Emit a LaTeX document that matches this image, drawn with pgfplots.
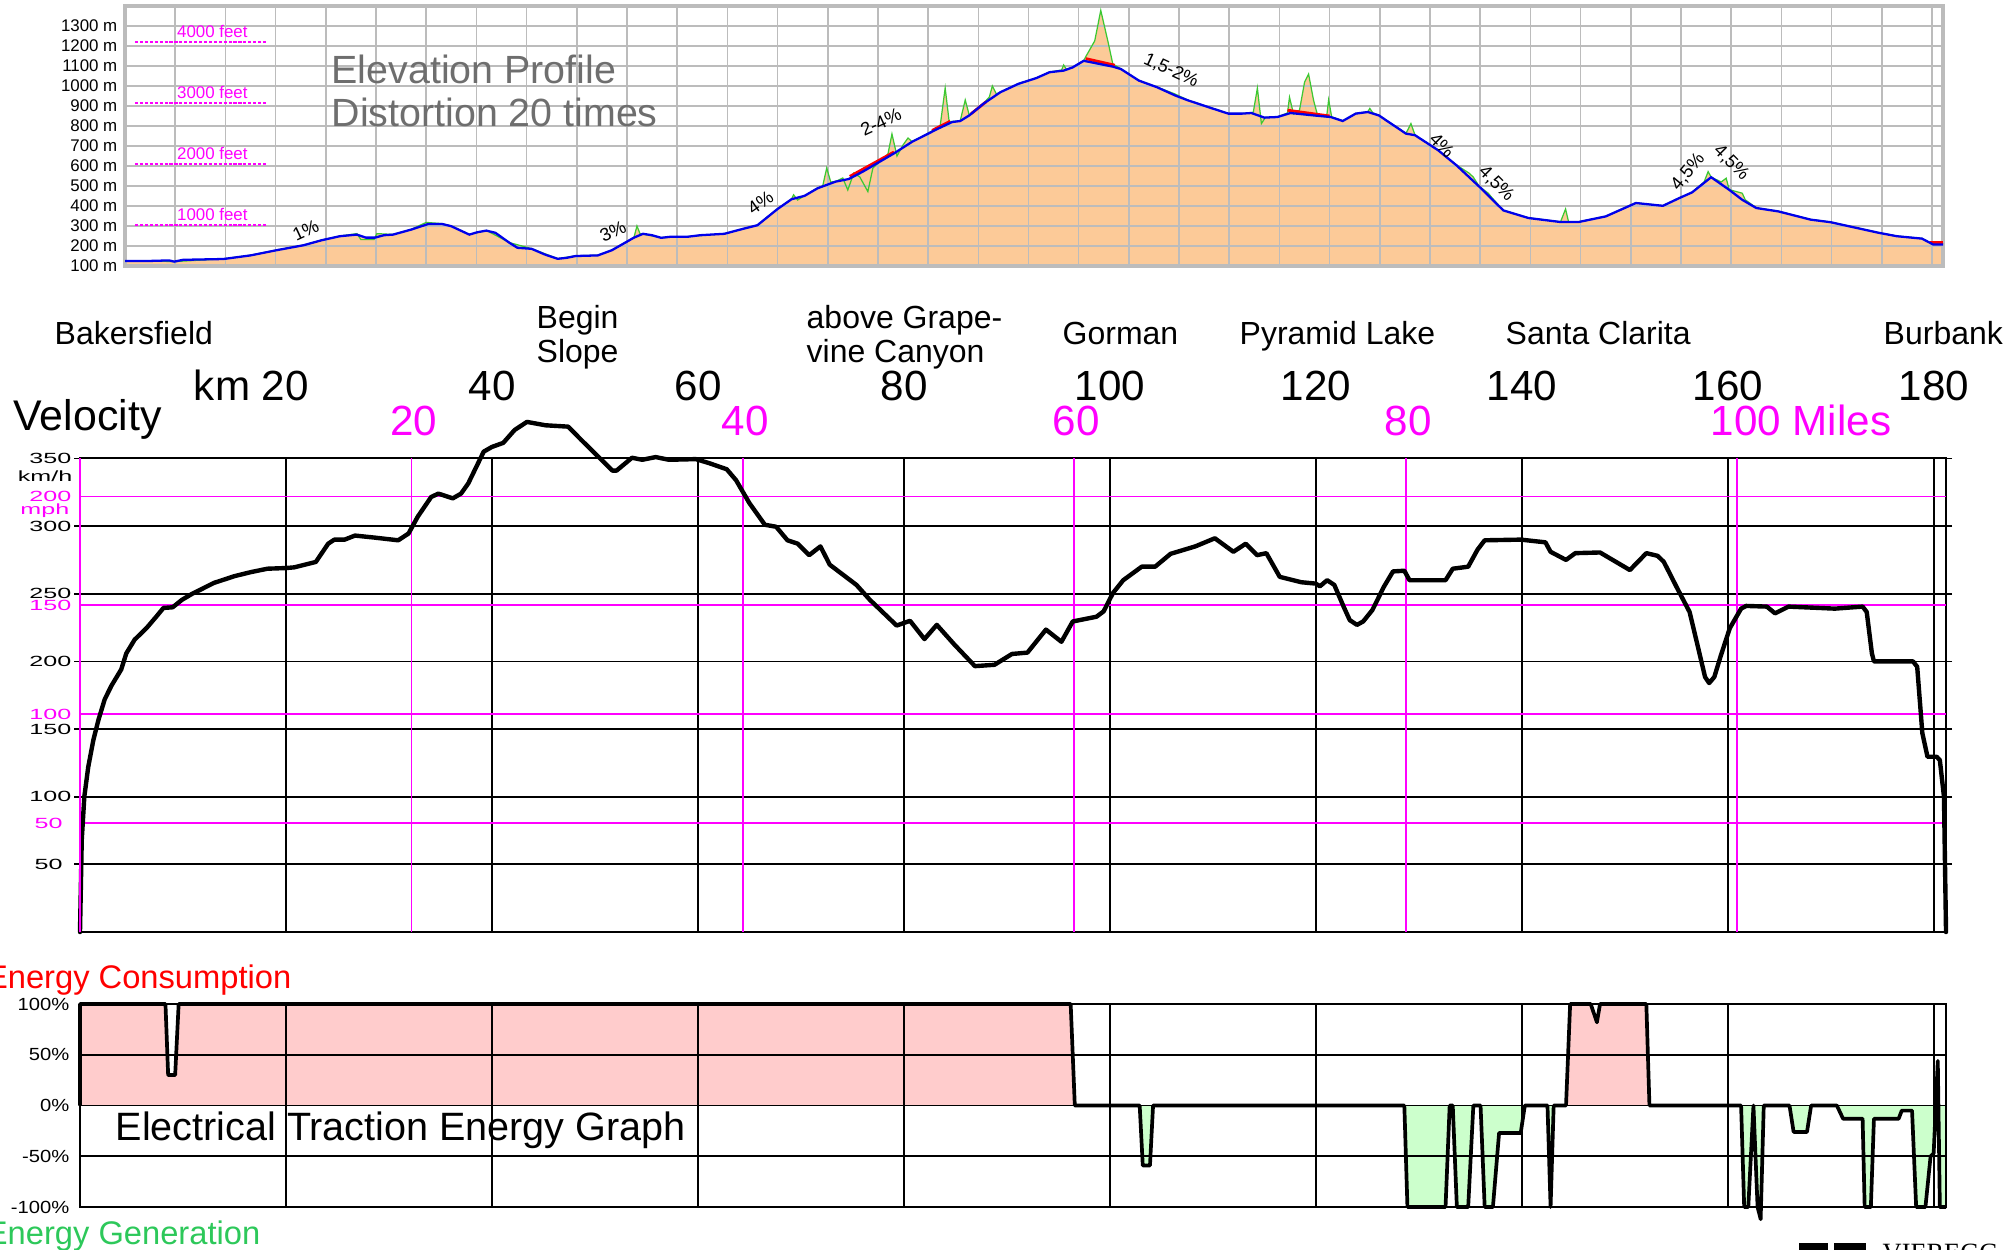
\documentclass[border=0pt]{standalone}
\usepackage{fontspec}
\setmainfont{Liberation Sans}
\newfontfamily\logofont{Liberation Serif}
\usepackage{graphicx}
\usepackage{pgfplots}
\pgfplotsset{compat=1.18}
\usepackage{pgfplotstable}

\definecolor{mag}{RGB}{255,0,255}
\definecolor{peach}{RGB}{252,202,152}
\definecolor{egrid}{RGB}{188,188,188}
\definecolor{pinkf}{RGB}{255,204,204}
\definecolor{greenf}{RGB}{204,255,204}
\definecolor{gtxt}{RGB}{45,200,90}
\definecolor{eblue}{RGB}{0,0,235}
\definecolor{egreen}{RGB}{60,200,50}
\definecolor{tgray}{RGB}{110,110,110}

\newcommand{\fs}[2]{\fontsize{#1pt}{#2pt}\selectfont}
\newcommand{\W}[1]{\scalebox{1.7}[1]{#1}}
\newcommand{\Wb}[1]{\scalebox{1.15}[1]{#1}}

\pgfplotsset{
  elevgeom/.style={scale only axis, at={(1.25cm,-2.66cm)}, anchor=south west,
    width=18.18cm, height=2.60cm, xmin=0, xmax=181.1, ymin=100, ymax=1400},
  velgeom/.style={scale only axis, at={(0.80cm,-9.32cm)}, anchor=south west,
    width=18.66cm, height=4.736cm, xmin=0, xmax=181.2, ymin=0, ymax=350},
  enggeom/.style={scale only axis, at={(0.80cm,-12.07cm)}, anchor=south west,
    width=18.66cm, height=2.03cm, xmin=0, xmax=181.2, ymin=-100, ymax=100},
}

\pgfplotstableread{
k h
0 125
2.2 125
4.4 128
4.9 122
5.8 131
9.8 135
12.5 153
15.1 179
17.8 204
19.6 229
21.4 249
23.1 257
24.0 242
24.9 242
25.8 254
26.7 257
28.5 282
30.2 310
31.6 310
32.5 299
34.3 257
35.1 269
36.0 277
36.9 266
38.3 216
39.1 191
40.5 186
41.8 158
43.1 136
44.0 141
44.9 150
47.1 153
48.5 179
49.8 216
50.7 242
51.6 261
52.5 254
53.4 241
54.3 246
56.0 246
57.3 254
59.7 261
61.5 285
63.0 304
65.0 385
66.4 434
67.7 451
69.0 489
70.8 522
72.1 535
73.5 572
75.2 622
76.6 663
78.4 721
79.7 754
81.0 787
82.4 820
83.2 825
84.1 853
85.5 911
87.2 969
89.0 1011
90.8 1040
92.1 1069
93.5 1077
94.4 1093
95.5 1126
96.6 1115
98.4 1097
99.2 1085
101.0 1027
102.8 994
104.6 953
105.9 928
107.7 898
109.9 862
111.3 862
112.2 865
113.5 842
114.8 845
116.1 865
118.4 853
120.1 845
121.3 825
122.6 862
123.8 870
124.9 853
127.6 762
128.5 754
130.8 679
132.6 605
134.9 497
137.3 378
139.8 340
143.0 320
144.8 320
147.5 348
150.5 415
153.2 401
154.8 439
156.1 468
158.0 544
159.8 481
161.1 431
162.5 390
164.7 373
167.9 332
169.9 319
174.7 266
176.5 249
179.0 237
180.1 208
181.1 208
}\elevblue

\pgfplotstableread{
k h
0 125
2.2 126
4.9 122
9.8 136
12.5 154
15.1 180
17.8 205
19.6 230
21.4 250
23.1 262
23.5 232
24.8 232
25.1 262
26.7 258
28.5 283
30.0 318
31.6 312
32.5 300
34.3 258
36.0 278
38.3 217
40.5 187
43.1 137
44.9 151
47.1 154
48.5 180
49.8 217
50.7 243
51.0 300
51.3 262
53.4 242
56.0 247
59.7 262
63.0 305
65.0 386
66.4 435
66.6 456
67.0 430
67.7 452
69.0 490
69.5 500
69.9 590
70.3 520
70.8 523
71.5 540
72.0 480
72.6 565
73.2 545
74.0 472
74.5 590
75.2 623
76.0 660
76.4 760
76.9 650
77.5 705
78.0 740
78.4 722
79.7 755
81.2 800
81.7 990
82.1 822
83.2 826
83.7 930
84.1 854
85.5 912
86.1 945
86.4 1000
86.8 960
87.2 970
89.0 1012
90.8 1041
92.1 1070
93.3 1080
93.5 1105
93.8 1082
94.4 1094
95.5 1127
95.7 1146
96.6 1226
97.2 1378
97.9 1226
98.4 1110
99.2 1086
101.0 1028
102.8 995
104.6 960
105.9 929
107.7 899
109.9 863
111.3 863
112.2 866
112.4 870
112.8 990
113.2 812
113.6 843
114.8 846
115.8 865
116.0 944
116.4 860
117.0 880
117.5 1019
117.9 1060
118.4 928
118.8 853
119.7 846
119.9 931
120.2 846
121.3 826
122.6 863
123.8 871
124.0 888
124.3 866
124.9 854
127.6 763
128.1 812
128.5 755
130.8 680
132.6 606
133.9 564
134.3 545
134.9 498
135.8 464
136.2 440
137.3 379
139.8 341
143.0 321
143.5 385
143.8 321
144.8 321
147.5 349
150.5 416
153.2 402
154.8 440
156.1 469
157.3 520
157.7 572
158.0 545
159.0 520
159.5 539
159.8 482
161.1 464
161.4 431
162.5 391
164.7 374
167.9 333
169.9 320
174.7 267
176.5 250
179.0 238
180.1 209
181.1 212
}\elevgreen

\pgfplotstableread{
k v
0 0
0.05 20
0.17 68
0.42 100
0.8 122
1.3 142
1.8 157
2.4 172
3.05 182
4.0 194
4.5 206
5.3 216
6.5 225
7.4 233
8.1 239.5
9.0 240
9.9 245.5
10.9 250
11.7 253
13.0 258
15.0 263
16.6 266
18.2 268.5
20.0 269
20.8 269.5
22.9 273.5
24.1 287
24.7 290
25.7 290
26.7 293
28.6 291.5
30.9 289.5
31.9 294.5
32.8 307
34.1 321.5
34.8 324
36.2 320.5
37.0 324
37.7 331.5
39.2 355
40.0 358.5
41.1 361.5
42.2 371
43.4 377
45.2 374.5
47.4 373.5
48.7 363.5
51.7 341
52.1 341
53.6 350.5
54.6 349
55.9 351
57.2 349
59.8 349.5
61.1 346.5
62.8 342
63.7 334
65.0 317
66.5 301
67.6 299.5
68.7 289.5
69.7 287
70.8 278.5
71.9 285
72.8 271.5
75.4 256.5
76.7 245.5
79.3 226.5
80.6 230
82.0 216.5
83.2 227
84.9 212.5
86.9 196.5
88.8 197.5
90.5 205.5
92.0 206.5
93.8 223.5
95.3 214.5
96.4 229.5
98.7 233
99.4 237
100.3 250.5
101.3 260
103.1 270
104.4 270
105.9 279.5
108.3 285
110.2 291
112.0 281
113.2 287
114.3 278.5
115.2 280
116.5 262.5
118.6 258.5
120.0 257.5
120.4 255.5
121.1 260
121.8 256.5
122.7 240.5
123.3 230.5
124.0 227
124.6 229.5
125.5 238
126.6 255
127.5 266.5
128.6 267
129.1 260
132.6 260
133.3 268.5
134.8 270
135.7 282.5
136.4 289.5
139.9 290
142.3 288
142.8 281
144.3 275
145.2 280
147.6 280.5
150.5 267.5
152.1 280
153.2 278
153.8 273.5
155.1 254
156.3 236.5
157.1 211
157.8 188.5
158.2 184
158.7 188.5
159.3 203.5
160.2 224.5
161.3 239
161.8 241
163.8 240.5
164.6 235.5
165.9 240.5
170.4 239
173.1 240.5
173.5 236.5
174.0 206
174.2 200
178.0 200
178.4 196
178.9 147
179.4 129.5
180.3 129.5
180.6 127
181.0 100
181.2 0
}\velo

\pgfplotstableread{
k e
0 0
0 100
8.3 100
8.56 30
9.24 30
9.58 100
96.2 100
96.6 0
102.9 0
103.2 -59
103.9 -59
104.2 0
128.6 0
128.9 -100
132.6 -100
133.0 0
133.3 0
133.7 -100
134.8 -100
135.3 0
136.0 0
136.4 -100
137.2 -100
137.8 -27
139.9 -27
140.3 0
142.5 0
142.8 -100
143.1 0
144.3 0
144.7 100
146.7 100
147.3 82
147.6 100
152.1 100
152.4 0
161.3 0
161.6 -100
162.0 -100
162.5 0
162.9 -100
163.2 -112
163.5 0
166.0 0
166.4 -26
167.7 -26
168.1 0
170.6 0
171.2 -13
173.1 -13
173.3 -100
173.9 -100
174.2 -13
176.6 -13
176.9 -5
177.9 -5
178.3 -100
179.2 -100
179.7 -50
180.0 -47
180.4 44
180.6 -100
181.2 -100
}\energy

\begin{document}
\begin{tikzpicture}
\useasboundingbox (0,0) rectangle (20.13,-12.49);
\clip (0,0) rectangle (20.13,-12.49);

% ================= ELEVATION: fill only
\begin{axis}[elevgeom, hide axis]
\addplot[draw=none, fill=peach] table[x=k,y=h] {\elevgreen} \closedcycle;
\addplot[draw=none, fill=peach] table[x=k,y=h] {\elevblue} \closedcycle;
\end{axis}

% ================= ELEVATION: grid, lines, labels
\begin{axis}[elevgeom,
  xtick={0,5,...,180}, xticklabels={},
  ytick={100,200,...,1300},
  yticklabels={100 m,200 m,300 m,400 m,500 m,600 m,700 m,800 m,900 m,1000 m,1100 m,1200 m,1300 m},
  grid=major, major grid style={egrid, line width=0.45pt},
  tick style={draw=none},
  axis line style={egrid, line width=0.9pt},
  yticklabel style={font=\fs{4.8}{5}, inner sep=0pt, xshift=-0.07cm},
]
\addplot[egreen, line width=0.35pt] table[x=k,y=h] {\elevgreen};
\addplot[red, line width=0.8pt] coordinates {(95.7,1137) (98.6,1104)};
\addplot[red, line width=0.8pt] coordinates {(72.2,548) (76.6,670)};
\addplot[red, line width=0.8pt] coordinates {(80.4,778) (82.2,824)};
\addplot[red, line width=0.8pt] coordinates {(84.3,862) (85.8,922)};
\addplot[red, line width=0.8pt] coordinates {(115.8,879) (120.0,850)};
\addplot[red, line width=0.8pt] coordinates {(179.8,216) (181.1,216)};
\addplot[eblue, line width=0.65pt] table[x=k,y=h] {\elevblue};

\foreach \hh/\lab in {304.8/1000, 609.6/2000, 914.4/3000, 1219.2/4000}{
  \edef\tmp{\noexpand\draw[mag, line width=0.5pt, dash pattern=on 0.9pt off 0.5pt] (axis cs:1,\hh) -- (axis cs:14,\hh);}\tmp
  \edef\tmp{\noexpand\node[anchor=base, inner sep=0pt, text=mag, font=\noexpand\fs{4.8}{5}] at (axis cs:8.7,\hh+25) {\lab\space feet};}\tmp
}
\node[rotate=25, inner sep=0pt, font=\fs{5.2}{6}] at (axis cs:18.0,278) {1\%};
\node[rotate=25, inner sep=0pt, font=\fs{5.2}{6}] at (axis cs:48.6,272) {3\%};
\node[rotate=35, inner sep=0pt, font=\fs{5.2}{6}] at (axis cs:63.3,418) {4\%};
\node[rotate=25, inner sep=0pt, font=\fs{5.2}{6}] at (axis cs:75.3,819) {2-4\%};
\node[rotate=-25, inner sep=0pt, font=\fs{5.2}{6}] at (axis cs:104.2,1077) {1,5-2\%};
\node[rotate=-45, inner sep=0pt, font=\fs{5.2}{6}] at (axis cs:131.2,705) {4\%};
\node[rotate=-45, inner sep=0pt, font=\fs{5.2}{6}] at (axis cs:136.6,510) {4,5\%};
\node[rotate=50, inner sep=0pt, font=\fs{5.2}{6}] at (axis cs:155.7,570) {4,5\%};
\node[rotate=-45, inner sep=0pt, font=\fs{5.2}{6}] at (axis cs:160.0,615) {4,5\%};
\end{axis}

\node[anchor=base west, inner sep=0pt, text=tgray, font=\fs{11.2}{12}] at (3.31,-0.83) {Elevation Profile};
\node[anchor=base west, inner sep=0pt, text=tgray, font=\fs{11.2}{12}] at (3.31,-1.26) {Distortion 20 times};

% ================= VELOCITY
\begin{axis}[velgeom, clip=false,
  xtick={20,40,...,180}, xticklabels={},
  ytick={50,100,...,350},
  yticklabels={\W{50\hspace{0.35em}},\W{100},\W{150},\W{200},\W{250},\W{300},\W{350}},
  grid=major, major grid style={black, line width=0.5pt},
  axis line style={black, line width=0.6pt},
  tick align=outside, major tick length=0.06cm,
  xtick style={draw=none}, ytick style={black, line width=0.5pt},
  yticklabel style={font=\fs{4.2}{4.5}, inner sep=0pt, xshift=-0.02cm},
  extra x ticks={0,32.187,64.374,96.561,128.748,160.934},
  extra x tick labels={},
  extra x tick style={grid=major, major grid style={mag, line width=0.55pt}, major tick length=0pt},
  extra y ticks={80.467,160.934,241.402,321.869},
  extra y tick labels={\W{50\hspace{0.35em}},\W{100},\W{150},\W{200}},
  extra y tick style={grid=major, major grid style={mag, line width=0.55pt}, major tick length=0pt,
     yticklabel style={text=mag, xshift=-0.06cm}},
]
\addplot[black, line width=1.25pt, line join=round, line cap=round] table[x=k,y=v] {\velo};
\draw[mag, line width=0.6pt] (axis cs:0,0) -- (axis cs:0,350);
\end{axis}

\node[anchor=east, inner sep=0pt, font=\fs{4.2}{4.5}] at (0.73,-4.76) {\W{km/h}};
\node[anchor=east, inner sep=0pt, font=\fs{4.2}{4.5}, text=mag] at (0.70,-5.11) {\W{mph}};

\node[anchor=base west, inner sep=0pt, font=\fs{12.2}{13}] at (0.13,-4.30) {Velocity};
\node[anchor=base east, inner sep=0pt, font=\fs{12}{13}] at (3.095,-4.006) {km 20};
\foreach \xx/\lab in {4.92/40, 6.98/60, 9.04/80, 11.10/100, 13.16/120, 15.22/140, 17.28/160, 19.34/180}{
  \node[anchor=base, inner sep=0pt, font=\fs{12}{13}] at (\xx,-4.006) {\lab};
}
\foreach \xx/\lab in {4.135/20, 7.45/40, 10.76/60, 14.08/80}{
  \node[anchor=base, inner sep=0pt, font=\fs{12}{13}, text=mag] at (\xx,-4.35) {\lab};
}
\node[anchor=base west, inner sep=0pt, font=\fs{12}{13}, text=mag] at (17.10,-4.35) {100 Miles};

\node[anchor=base west, inner sep=0pt, font=\fs{9.1}{9.5}] at (0.54,-3.44) {Bakersfield};
\node[anchor=base west, inner sep=0pt, font=\fs{9.1}{9.5}] at (5.36,-3.28) {Begin};
\node[anchor=base west, inner sep=0pt, font=\fs{9.1}{9.5}] at (5.36,-3.62) {Slope};
\node[anchor=base west, inner sep=0pt, font=\fs{9.1}{9.5}] at (8.06,-3.28) {above Grape-};
\node[anchor=base west, inner sep=0pt, font=\fs{9.1}{9.5}] at (8.06,-3.62) {vine Canyon};
\node[anchor=base west, inner sep=0pt, font=\fs{9.1}{9.5}] at (10.62,-3.44) {Gorman};
\node[anchor=base west, inner sep=0pt, font=\fs{9.1}{9.5}] at (12.39,-3.44) {Pyramid Lake};
\node[anchor=base west, inner sep=0pt, font=\fs{9.1}{9.5}] at (15.05,-3.44) {Santa Clarita};
\node[anchor=base west, inner sep=0pt, font=\fs{9.1}{9.5}] at (18.83,-3.44) {Burbank};

% ================= ENERGY: fills
\begin{axis}[enggeom, hide axis, clip=false]
\addplot[draw=none, fill=pinkf] table[x=k, y expr={max(\thisrow{e},0)}] {\energy} \closedcycle;
\addplot[draw=none, fill=greenf] table[x=k, y expr={min(\thisrow{e},0)}] {\energy} \closedcycle;
\end{axis}

% ================= ENERGY: grid and line
\begin{axis}[enggeom, clip=false,
  xtick={20,40,...,180}, xticklabels={},
  ytick={-100,-50,0,50,100},
  yticklabels={\Wb{-100\%},\Wb{-50\%},\Wb{0\%},\Wb{50\%},\Wb{100\%}},
  grid=major, major grid style={black, line width=0.5pt},
  axis line style={black, line width=0.8pt},
  tick style={draw=none},
  yticklabel style={font=\fs{5}{5.5}, inner sep=0pt, xshift=-0.10cm},
]
\addplot[black, line width=1.05pt, line join=round] table[x=k,y=e] {\energy};
\end{axis}

\node[anchor=base east, inner sep=0pt, text=red, font=\fs{9.3}{10}] at (2.92,-9.88) {Energy Consumption};
\node[anchor=base east, inner sep=0pt, text=gtxt, font=\fs{9.3}{10}] at (2.61,-12.44) {Energy Generation};
\node[anchor=base west, inner sep=0pt, font=\fs{11.25}{12}] at (1.15,-11.40) {Electrical Traction Energy Graph};

% logo (cut at bottom)
\fill[black] (17.99,-12.43) rectangle (18.28,-12.60);
\fill[black] (18.34,-12.43) rectangle (18.66,-12.60);
\node[anchor=north west, inner sep=0pt, font=\logofont\fs{7.5}{8}] at (18.82,-12.435) {VIEREGG};
\end{tikzpicture}
\end{document}
